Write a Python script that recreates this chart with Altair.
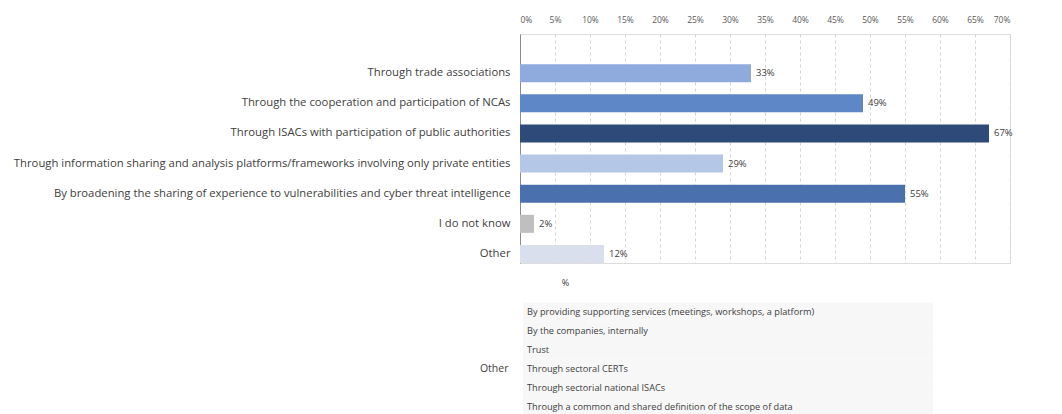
import altair as alt
import pandas as pd

categories = [
    "Through trade associations",
    "Through the cooperation and participation of NCAs",
    "Through ISACs with participation of public authorities",
    "Through information sharing and analysis platforms/frameworks involving only private entities",
    "By broadening the sharing of experience to vulnerabilities and cyber threat intelligence",
    "I do not know",
    "Other",
]
values = [33, 49, 67, 29, 55, 2, 12]
bar_colors = ["#8FAADC", "#5E87C7", "#2E4A78", "#B4C7E7", "#4A70AE", "#BFBFBF", "#D9DFEC"]
tick_values = [0, 5, 10, 15, 20, 25, 30, 35, 40, 45, 50, 55, 60, 65, 70]
other_items = [
    "By providing supporting services (meetings, workshops, a platform)",
    "By the companies, internally",
    "Trust",
    "Through sectoral CERTs",
    "Through sectorial national ISACs",
    "Through a common and shared definition of the scope of data",
]

FONT = "Open Sans"
TXT = "#404040"

df = pd.DataFrame({
    "category": categories,
    "value": values,
    "color": bar_colors,
    "label": [f"{v}%" for v in values],
})
tdf = pd.DataFrame({"item": other_items})

y_domain = [" "] + categories

y_enc = alt.Y(
    "category:N",
    sort=None,
    scale=alt.Scale(domain=y_domain, paddingInner=0.4, paddingOuter=0),
    axis=alt.Axis(
        title=None, labelFont=FONT, labelFontSize=11.3, labelColor=TXT,
        labelPadding=10, ticks=False, domainColor="#8c8c8c", labelLimit=700,
    ),
)
x_enc = alt.X(
    "value:Q",
    scale=alt.Scale(domain=[0, 70], nice=False),
    axis=alt.Axis(
        orient="top", values=tick_values, labelOverlap=False,
        labelExpr="datum.value + '%'",
        title="%", titleFont=FONT, titleFontSize=9, titleFontWeight="normal",
        titleColor=TXT, titleX=45, titleY=248, titleBaseline="middle",
        titleAlign="center",
        grid=True, gridDash=[3, 3], gridColor="#d4d4d4", domain=False,
        ticks=False, labelFont=FONT, labelFontSize=8.5, labelColor="#595959",
        labelPadding=10,
    ),
)

base = alt.Chart(df).encode(x=x_enc, y=y_enc)
bars = base.mark_bar().encode(color=alt.Color("color:N", scale=None))
bar_labels = base.mark_text(
    align="left", dx=5, font=FONT, fontSize=9.5, color=TXT
).encode(text="label:N")

top = alt.layer(bars, bar_labels)

t_y = alt.Y(
    "item:N",
    sort=None,
    scale=alt.Scale(domain=other_items, range=[263, 388], paddingInner=0, paddingOuter=0.29),
    axis=alt.Axis(
        orient="left", labels=False, ticks=False, domain=False, grid=False,
        title="Other", titleAngle=0, titleAlign="right", titleBaseline="middle",
        titleX=-12, titleY=334, titleFont=FONT, titleFontSize=10.5,
        titleFontWeight="normal", titleColor=TXT,
    ),
)
t_base = alt.Chart(tdf).encode(y=t_y)
t_rect = t_base.mark_rect(color="#f7f7f7").encode(x=alt.value(3), x2=alt.value(413))
t_text = t_base.mark_text(
    align="left", font=FONT, fontSize=9.2, color=TXT
).encode(x=alt.value(7), text="item:N")

table = alt.layer(t_rect, t_text)

chart = alt.layer(top, table).resolve_scale(y="independent").properties(
    width=490,
    height=229,
    autosize=alt.AutoSizeParams(type="none"),
    padding={"left": 512, "top": 26, "right": 20, "bottom": 151},
).configure_view(stroke=None).configure(background="white")

chart.save("out.html", embed_options={"renderer": "svg", "actions": False})
